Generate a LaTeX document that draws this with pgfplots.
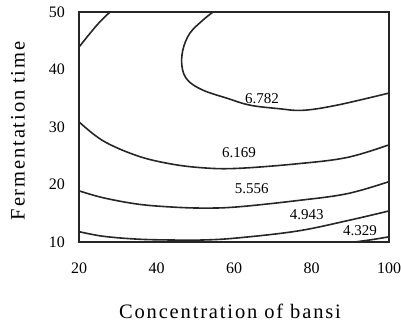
\documentclass[border=0pt]{standalone}
\usepackage{fontspec}
\setmainfont{Liberation Serif}
\usepackage{pgfplots}
\pgfplotsset{compat=1.18}
\pgfplotsset{cline/.style={black!85, line width=1.6pt, smooth, tension=0.6, mark=none}}
\begin{document}
\begin{tikzpicture}[x=1pt,y=1pt]
\useasboundingbox (0,0) rectangle (401,323);
\begin{axis}[
  at={(79pt,81pt)}, anchor=south west,
  scale only axis, width=310pt, height=230pt,
  xmin=20, xmax=100, ymin=10, ymax=50,
  xtick={20,40,60,80,100},
  xticklabels={20,40,60,80,\raisebox{4pt}{100}},
  ytick={10,20,30,40,50},
  major tick length=0pt,
  axis line style={line width=1.6pt, black!85},
  /pgf/number format/assume math mode=true,
  ticklabel style={font=\fontsize{16}{18}\selectfont, inner sep=0pt},
  yticklabel style={anchor=east, xshift=-14pt},
  xticklabel style={anchor=north, yshift=-21pt},
  xlabel={\addfontfeature{LetterSpace=9}Concentration of bansi},
  ylabel={\addfontfeature{LetterSpace=9}Fermentation time},
  label style={font=\fontsize{20.5}{22}\selectfont},
  xlabel style={at={(axis description cs:0.487,-0.3)}, anchor=center},
  ylabel style={at={(axis description cs:-0.197,0.483)}, anchor=center},
  clip=true,
]
% 6.782 (upper-left branch)
\addplot[cline] coordinates {(20,43.9) (24.6,47.7) (28,50)};
% 6.782 (main)
\addplot[cline] coordinates {(54.6,50) (52.0,48.6) (48.6,46.3) (46.8,43.4) (46.6,40.4) (48.1,38.1) (52.0,36.4) (58.2,35.0) (64.1,33.8) (71.4,33.2) (77.8,32.9) (86.6,33.8) (100,35.9)};
% 6.169
\addplot[cline] coordinates {(20,30.9) (26.2,27.6) (35.0,25.0) (43.5,23.6) (52.0,22.9) (60.8,22.8) (76.3,23.6) (89.2,24.7) (100,26.9)};
% 5.556
\addplot[cline] coordinates {(20,18.9) (26.2,17.7) (35.0,16.6) (43.5,16.1) (52.0,15.9) (60.8,16.1) (76.3,17.2) (89.2,18.4) (100,20.5)};
% 4.943
\addplot[cline] coordinates {(20,11.8) (26.2,11.0) (35.0,10.5) (43.5,10.35) (52.0,10.35) (60.8,10.7) (76.3,11.9) (89.2,13.7) (100,15.4)};
% 4.329
\addplot[cline] coordinates {(91.2,10) (95.5,10.4) (100,10.9)};
\node[font=\fontsize{15}{17}\selectfont, inner sep=0pt] at (axis cs:67.2,35.0) {6.782};
\node[font=\fontsize{15}{17}\selectfont, inner sep=0pt] at (axis cs:61.3,25.6) {6.169};
\node[font=\fontsize{15}{17}\selectfont, inner sep=0pt] at (axis cs:64.6,19.2) {5.556};
\node[font=\fontsize{15}{17}\selectfont, inner sep=0pt] at (axis cs:78.8,14.8) {4.943};
\node[font=\fontsize{15}{17}\selectfont, inner sep=0pt] at (axis cs:92.5,12.0) {4.329};
\end{axis}
\end{tikzpicture}
\end{document}
